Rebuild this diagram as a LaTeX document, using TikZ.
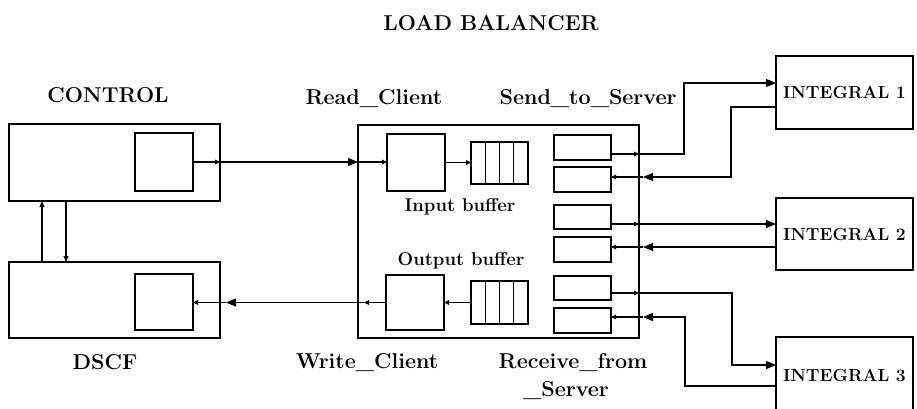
\documentclass[tikz,border=0pt]{standalone}
\usetikzlibrary{arrows.meta,calc}
\begin{document}
\begin{tikzpicture}[x=1pt,y=-1pt,
  box/.style={draw,line width=1.4pt,inner sep=0pt,outer sep=0pt,anchor=north west},
  conn/.style={line width=1.1pt},
  sa/.style={conn,-{Triangle[length=5pt,width=4.5pt]}},
  ba/.style={conn,-{Triangle[length=10pt,width=8pt]}},
  va/.style={conn,-{Triangle[length=6pt,width=5pt]}},
  lblbig/.style={font=\fontsize{21.5}{28}\selectfont\bfseries,inner sep=0pt,anchor=base},
  lblmid/.style={font=\fontsize{18.5}{22}\selectfont\bfseries,inner sep=0pt,anchor=base},
  lblint/.style={font=\fontsize{17.5}{21}\selectfont\bfseries}
]
\useasboundingbox (0,0) rectangle (917,408);

% left boxes
\node[box,minimum width=211pt,minimum height=77pt] (ctrl) at (9,124) {};
\node[box,minimum width=58pt,minimum height=58pt] (ctrlin) at (135,133) {};
\node[box,minimum width=211pt,minimum height=76pt] (dscf) at (9,262) {};
\node[box,minimum width=58pt,minimum height=56pt] (dscfin) at (135,274) {};

% load balancer
\node[box,minimum width=281pt,minimum height=213pt] (lb) at (358,125) {};
\draw[line width=2.4pt] (lb.north west) -- (lb.south west);
\node[box,minimum width=58pt,minimum height=57pt] (rd) at (387,134) {};
\node[box,minimum width=57pt,minimum height=42pt] (iq) at (471,142) {};
\node[box,minimum width=58pt,minimum height=55pt] (wr) at (386,275) {};
\node[box,minimum width=57pt,minimum height=43pt] (oq) at (471,281) {};
\foreach \q in {iq,oq}{
  \foreach \i in {1,2,3}
    \draw[line width=1.4pt] ($(\q.north west)!\i/4!(\q.north east)$) -- ($(\q.south west)!\i/4!(\q.south east)$);
}
\node[box,minimum width=57pt,minimum height=25pt] (s1) at (554,135) {};
\node[box,minimum width=57pt,minimum height=25pt] (s2) at (554,167) {};
\node[box,minimum width=57pt,minimum height=24pt] (s3) at (554,205) {};
\node[box,minimum width=57pt,minimum height=25pt] (s4) at (554,237) {};
\node[box,minimum width=57pt,minimum height=24pt] (s5) at (554,276) {};
\node[box,minimum width=57pt,minimum height=25pt] (s6) at (554,308) {};

% integral boxes
\node[box,lblint,minimum width=137pt,minimum height=73pt] (int1) at (776,56) {INTEGRAL 1};
\node[box,lblint,minimum width=137pt,minimum height=72pt] (int2) at (776,198) {INTEGRAL 2};
\node[box,lblint,minimum width=137pt,minimum height=76pt] (int3) at (776,337) {INTEGRAL 3};

% labels
\node[lblbig] (tlb) at (491,30) {LOAD BALANCER};
\node[lblbig] (tctrl) at (108,102) {CONTROL};
\node[lblbig] (tdscf) at (105,369) {DSCF};
\node[lblbig] (tread) at (374,104) {Read\_Client};
\node[lblbig] (tsend) at (588,104) {Send\_to\_Server};
\node[lblbig] (twrite) at (367,368) {Write\_Client};
\node[lblbig] (trecv) at (573,368) {Receive\_from};
\node[lblbig] (trecv2) at (566,396) {\_Server};
\node[lblmid] (tin) at (460,211) {Input buffer};
\node[lblmid] (tout) at (461,265) {Output buffer};

% control <-> dscf
\draw[va] (dscf.north -| 42,0) -- (ctrl.south -| 42,0);
\draw[va] (ctrl.south -| 66,0) -- (dscf.north -| 66,0);

% input chain
\draw[sa] (ctrlin.east) -- (ctrl.east |- ctrlin.east);
\draw[ba] (ctrl.east |- ctrlin.east) -- (lb.west |- ctrlin.east);
\draw[sa] (lb.west |- ctrlin.east) -- (rd.west |- ctrlin.east);
\draw[sa] (rd.east) -- (iq.west |- rd.east);

% output chain
\draw[sa] (oq.west) -- (wr.east |- oq.west);
\draw[sa] (wr.west |- oq.west) -- ($(lb.west |- oq.west)+(6,0)$);
\draw[conn] ($(lb.west |- oq.west)+(6,0)$) -- (lb.west |- oq.west);
\draw[ba] (lb.west |- oq.west) -- ($(dscf.east |- oq.west)+(6,0)$);
\draw[conn] ($(dscf.east |- oq.west)+(6,0)$) -- (dscf.east |- oq.west);
\draw[sa] (dscf.east |- oq.west) -- (dscfin.east |- oq.west);

% right side coordinates
\coordinate (o1) at (lb.east |- 0,154);
\coordinate (i2) at (lb.east |- 0,177);
\coordinate (o3) at (lb.east |- 0,224);
\coordinate (i4) at (lb.east |- 0,247);
\coordinate (o5) at (lb.east |- 0,293);
\coordinate (i6) at (lb.east |- 0,317);

\draw[sa] (s1.east |- o1) -- (o1);
\draw[sa] (s3.east |- o3) -- (o3);
\draw[sa] (s5.east |- o5) -- (o5);
\draw[sa] (i2) -- (s2.east |- i2);
\draw[sa] (i4) -- (s4.east |- i4);
\draw[sa] (i6) -- (s6.east |- i6);

\draw[ba] (o1) -| (684,83) -- (int1.west |- 0,83);
\draw[ba] (int1.west |- 0,107) -| (731,177) -- ($(i2)+(4,0)$);
\draw[ba] (o3) -- (int2.west |- o3);
\draw[ba] (int2.west |- i4) -- ($(i4)+(4,0)$);
\draw[ba] (o5) -| (732,365) -- (int3.west |- 0,365);
\draw[ba] (int3.west |- 0,386) -| (685,317) -- ($(i6)+(4,0)$);
\draw[conn] ($(i2)+(4,0)$) -- (i2);
\draw[conn] ($(i4)+(4,0)$) -- (i4);
\draw[conn] ($(i6)+(4,0)$) -- (i6);
\end{tikzpicture}
\end{document}
